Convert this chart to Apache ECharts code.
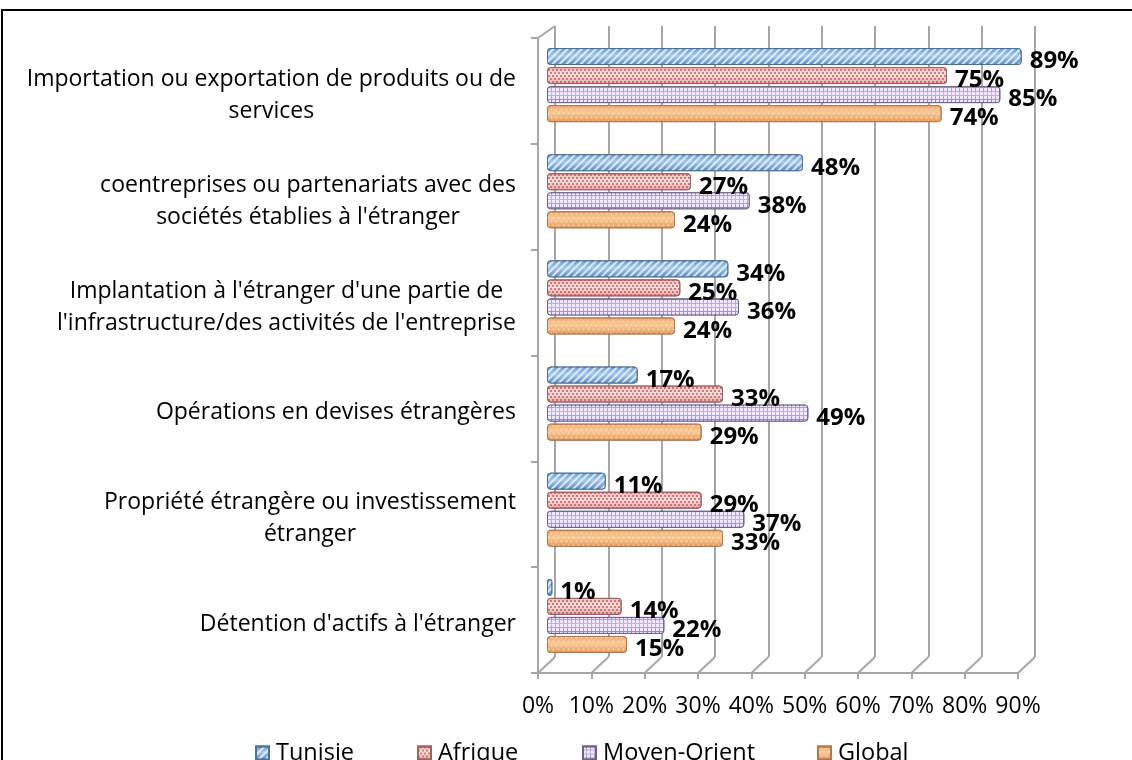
<!DOCTYPE html>
<html>
<head>
<meta charset="utf-8">
<script src="https://cdn.jsdelivr.net/npm/echarts@6/dist/echarts.min.js"></script>
<style>
  html, body { margin: 0; padding: 0; background: #fff; }
  #chart { width: 1132px; height: 760px; }
</style>
</head>
<body>
<div id="chart"></div>
<script>
// Survey categories (top to bottom)
const categories = [
  'Importation ou exportation de produits ou de\nservices',
  'coentreprises ou partenariats avec des\nsociétés établies à l\'étranger',
  'Implantation à l\'étranger d\'une partie de\nl\'infrastructure/des activités de l\'entreprise',
  'Opérations en devises étrangères',
  'Propriété étrangère ou investissement\nétranger',
  'Détention d\'actifs à l\'étranger'
];

// Share of respondents (%) per region
const tunisie     = [89, 48, 34, 17, 11, 1];
const afrique     = [75, 27, 25, 33, 29, 14];
const moyenOrient = [85, 38, 36, 49, 37, 22];
const globalVals  = [74, 24, 24, 29, 33, 15];

const seriesNames = ['Tunisie', 'Afrique', 'Moyen-Orient', 'Global'];

// Percentage axis: 0% .. 90% in steps of 10
const axisMin = 0;
const axisMax = 90;
const axisStep = 10;

const FONT = '"Open Sans", "Noto Sans", sans-serif';
const GRID_GRAY = '#a6a6a6';

// Front plane (axes + labels), back wall (gridlines), bar plane in between
const FRONT = { left: 538, top: 38, width: 480, height: 635 };
const BACK  = { left: 555, top: 26, width: 480, height: 631 };
const BARS  = { left: 547, top: 32, width: 480, height: 637 };

// Horizontal position of each legend entry
const LEGEND_LEFT = [250, 412, 577, 812];

function vGrad(c0, c1, c2) {
  return new echarts.graphic.LinearGradient(0, 0, 0, 1, [
    { offset: 0, color: c0 },
    { offset: 0.45, color: c1 },
    { offset: 1, color: c2 }
  ]);
}

const styles = [
  { // Tunisie: blue with diagonal hatch
    color: vGrad('#6a9bd2', '#a3c9ec', '#5888c0'),
    borderColor: '#4d7096',
    decal: { symbol: 'rect', symbolSize: 1, color: 'rgba(235,245,255,0.85)',
             dashArrayX: [1, 0], dashArrayY: [2, 3], rotation: -Math.PI / 4 }
  },
  { // Afrique: pale pink with red dots
    color: vGrad('#eebcbc', '#fae2e2', '#e0a8a8'),
    borderColor: '#9c6262',
    decal: { symbol: 'circle', symbolSize: 0.9, color: 'rgba(190,64,64,0.9)',
             dashArrayX: [[2, 2], [0, 2, 2, 0]], dashArrayY: [2, 1] }
  },
  { // Moyen-Orient: lavender lattice
    color: vGrad('#a392c9', '#c6b6e4', '#8f7fb6'),
    borderColor: '#6f6189',
    decal: { symbol: 'rect', symbolSize: 1, color: 'rgba(246,242,255,0.9)',
             dashArrayX: [3, 1], dashArrayY: [3, 1] }
  },
  { // Global: peach with light dots
    color: vGrad('#f2ac6d', '#f9c895', '#e39a5a'),
    borderColor: '#b07750',
    decal: { symbol: 'circle', symbolSize: 0.6, color: 'rgba(255,232,205,0.75)',
             dashArrayX: [[3, 2], [0, 2, 3, 0]], dashArrayY: [3, 1] }
  }
];

const seriesData = [tunisie, afrique, moyenOrient, globalVals];

const chart = echarts.init(document.getElementById('chart'), null, { renderer: 'canvas' });

const option = {
  animation: false,
  backgroundColor: '#fff',
  textStyle: { fontFamily: FONT },
  grid: [
    Object.assign({ containLabel: false }, FRONT),
    Object.assign({ containLabel: false }, BACK),
    Object.assign({ containLabel: false }, BARS)
  ],
  xAxis: [
    {
      gridIndex: 0, type: 'value', min: axisMin, max: axisMax, interval: axisStep,
      axisLine: { show: true, lineStyle: { color: GRID_GRAY, width: 2 } },
      axisTick: { show: true, length: 6, lineStyle: { color: GRID_GRAY, width: 2 } },
      splitLine: { show: false },
      axisLabel: { formatter: '{value}%', fontSize: 23, color: '#000', margin: 22, fontFamily: FONT }
    },
    {
      gridIndex: 1, type: 'value', min: axisMin, max: axisMax, interval: axisStep,
      axisLine: { show: false }, axisTick: { show: false }, axisLabel: { show: false },
      splitLine: { show: true, lineStyle: { color: GRID_GRAY, width: 2 } }
    },
    {
      gridIndex: 2, type: 'value', min: axisMin, max: axisMax, show: false
    }
  ],
  yAxis: [
    {
      gridIndex: 0, type: 'category', data: categories, inverse: true,
      axisLine: { show: true, lineStyle: { color: GRID_GRAY, width: 2 } },
      axisTick: { show: true, length: 7, lineStyle: { color: GRID_GRAY, width: 2 } },
      axisLabel: {
        margin: 22, fontFamily: FONT, align: 'right', padding: [9, 0, 0, 0],
        formatter: v => v.split('\n').map(l => '{c|' + l + '}').join('\n'),
        rich: { c: { align: 'center', fontSize: 23, lineHeight: 32, color: '#000', fontFamily: FONT } }
      }
    },
    { gridIndex: 1, type: 'category', data: categories, inverse: true, show: false },
    { gridIndex: 2, type: 'category', data: categories, inverse: true, show: false }
  ],
  legend: seriesNames.map((name, i) => ({
    data: [name],
    left: LEGEND_LEFT[i], top: 736,
    icon: 'rect', itemWidth: 13, itemHeight: 13, itemGap: 0,
    textStyle: { fontSize: 23.5, color: '#000', fontFamily: FONT, padding: [0, 0, 0, 2] }
  })),
  series: seriesNames.map((name, i) => ({
    name: name,
    type: 'bar',
    xAxisIndex: 2, yAxisIndex: 2,
    data: seriesData[i],
    barWidth: 17,
    barGap: '12%',
    itemStyle: {
      color: styles[i].color,
      borderColor: styles[i].borderColor,
      borderWidth: 1,
      borderRadius: 3,
      decal: styles[i].decal
    },
    label: {
      show: true, position: 'right', distance: 8, offset: [0, 5],
      formatter: '{c}%', fontSize: 24, fontWeight: 'bold', color: '#000', fontFamily: FONT
    }
  }))
};

chart.setOption(option);

// Floor and wall edges joining the front axis plane to the back wall
const frontBottom = FRONT.top + FRONT.height;
const backBottom = BACK.top + BACK.height;
const edges = [];
for (let v = axisMin; v <= axisMax; v += axisStep) {
  const xf = chart.convertToPixel({ xAxisIndex: 0 }, v);
  const xb = chart.convertToPixel({ xAxisIndex: 1 }, v);
  edges.push({
    type: 'line', silent: true,
    shape: { x1: xf, y1: frontBottom, x2: xb, y2: backBottom },
    style: { stroke: GRID_GRAY, lineWidth: 2 }
  });
}
const x0f = chart.convertToPixel({ xAxisIndex: 0 }, axisMin);
const x0b = chart.convertToPixel({ xAxisIndex: 1 }, axisMin);
edges.push({
  type: 'line', silent: true,
  shape: { x1: x0f, y1: FRONT.top, x2: x0b, y2: BACK.top },
  style: { stroke: GRID_GRAY, lineWidth: 2 }
});
// Outer frame
edges.push({
  type: 'rect', silent: true, z: 100,
  shape: { x: 2, y: 10, width: 1132, height: 760 },
  style: { fill: 'none', stroke: '#000', lineWidth: 2 }
});
chart.setOption({ graphic: edges });
</script>
</body>
</html>
